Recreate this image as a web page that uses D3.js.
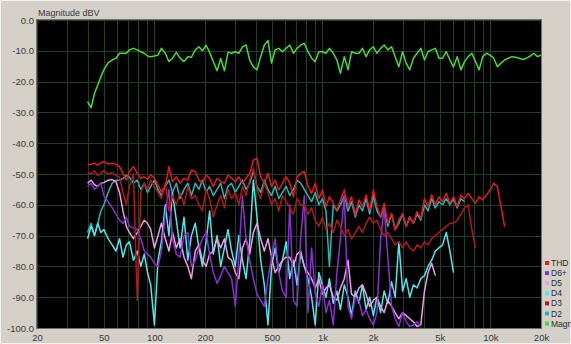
<!DOCTYPE html>
<html>
<head>
<meta charset="utf-8">
<script src="https://cdn.jsdelivr.net/npm/d3@7"></script>
<style>
  body { margin: 0; background: #d4d0c8; }
  svg { display: block; font-family: "Liberation Sans", Arial, sans-serif; }
</style>
</head>
<body>
<svg id="chart" width="571" height="344"></svg>
<script>
// frequency points (Hz) shared by every trace
var freqs = [40,42,44,46,48,50,53,56,59,62,
  65,68,71,75,79,83,87,91,95,100,
  105,110,116,122,128,135,142,150,158,166,
  175,184,193,203,213,224,236,248,261,274,
  288,303,318,334,351,369,388,408,429,451,
  474,498,523,550,578,608,639,672,706,742,
  780,820,862,906,952,1000,1050,1100,1160,1220,
  1280,1350,1420,1490,1570,1650,1730,1820,1910,2010,
  2110,2220,2330,2450,2580,2710,2850,3000,3150,3310,
  3480,3660,3850,4050,4250,4470,4700,4940,5190,5460,
  5740,6030,6340,6670,7010,7370,7750,8150,8560,9000,
  9460,9950,10460,11000,11560,12150,12770,13430,14120,14840,
  15600,16400,17240,18120,19050,20000];

// dBV values
var magn = [-26.5,-28.5,-23.8,-21.1,-18.4,-16.2,-13.9,-13,-12.4,-10.8,
  -10.8,-10.8,-9.7,-9.2,-9.7,-10.3,-10.8,-11.7,-11.9,-11.7,
  -11.4,-9.2,-10.8,-13.5,-12.4,-10.5,-12.4,-13.5,-11.9,-12.1,
  -9.7,-8.7,-10,-8.2,-10.5,-13.5,-16.5,-12.5,-16.5,-10.5,
  -10.8,-10.3,-10.8,-8.7,-8.1,-13,-15.2,-16.2,-11.9,-8.1,
  -6.7,-14,-9.7,-9.2,-10.3,-9.2,-8.1,-10.8,-9.2,-8.1,
  -7.6,-10.3,-12.4,-13.5,-10.3,-10.3,-10.8,-9.2,-10.8,-13,
  -17.3,-11.9,-16.2,-10.3,-10.8,-10.8,-9.2,-11.9,-9.7,-8.7,
  -10.8,-9.2,-8.1,-9.7,-8.7,-11.9,-15.2,-10.3,-14,-16.2,
  -12.4,-10.8,-9.2,-13,-10.3,-9.7,-9.2,-12.4,-12.4,-10.3,
  -13,-15.2,-11.9,-16.2,-13.5,-11.9,-10.8,-13.5,-16.2,-11.9,
  -10.8,-11.4,-12.4,-15.2,-14,-13,-12.4,-11.9,-12.1,-12.4,
  -12.8,-12.4,-11.7,-10.8,-11.9,-11.4];

var thd = [-47.1,-46.8,-46.5,-47.1,-46.3,-46,-46.8,-46.5,-46.8,-47.6,
  -49.8,-52,-49.2,-47.6,-49.8,-51.4,-50.9,-51.7,-50.3,-51.4,
  -53.6,-55.7,-54.1,-47.6,-52.5,-50.9,-53,-51.4,-52,-48.7,
  -49.2,-52,-53,-50.3,-51.4,-54.1,-51.4,-52.5,-53,-50.3,
  -51.4,-52.5,-50.9,-53,-51.4,-49.8,-45.5,-44.9,-50.9,-53,
  -49.8,-54.1,-52,-55.2,-53,-50.9,-53,-57.4,-51,-49.8,
  -49.2,-54,-56.3,-53,-58,-55.2,-60.6,-57.4,-59.5,-61.7,
  -58.4,-55.2,-60.6,-57.4,-63.3,-58.4,-60.6,-56.8,-61.7,-55.2,
  -60.6,-63.9,-59.5,-66,-62.8,-68.2,-65,-62.8,-67.1,-63.9,
  -66,-62.2,-64.4,-58,-60.6,-56.8,-60,-57.4,-59,-56.3,
  -59.5,-57.4,-60.6,-56.8,-58,-56.3,-58,-59.5,-57.4,-58.4,
  -56.8,-55.2,-53,-54.1,-60.6,-67.1];

var d6 = [-54,-53,-55,-54,-53,-57,-59,-61,-63,-65,
  -66,-64,-67,-67.5,-68,-71,-75,-76,-77,-79,
  -80,-75,-63,-55,-71,-76,-77,-70,-69,-80,
  -78,-74,-71,-69,-76,-82,-85.5,-83,-80,-82,
  -84,-93,-77,-57,-71,-78,-84,-89,-91,-93,
  -84,-77,-71,-82,-88,-90,-60,-91,-93,-71,
  -57,-95,-74,-89,-93,-86,-95,-91,-99,-82,
  -71,-57,-93,-97,-90,-91,-96,-94,-97,-99,
  -95,-71,-61,-77,-93,-97,-99.5,-95,-98,-99.5,
  -99,-98,-99.5];

var d5 = [-53,-52,-53.5,-54,-53,-52.8,-52,-51.8,-52.5,-56,
  -62,-67,-69,-71,-69,-67,-65,-66,-68,-74,
  -70,-66,-71,-75,-69,-74,-71,-77,-80,-84,
  -75,-73,-78,-80,-76,-75,-71,-74,-71,-77,
  -78,-82,-84,-74,-71,-76,-69,-66,-71,-75,
  -71,-77,-82,-80,-78,-77,-77,-80,-76,-75,
  -80,-82,-84,-87,-84,-89,-87,-86,-90,-91,
  -87,-84,-78,-89,-90,-87,-86,-89,-93,-91,
  -90,-93,-95,-91,-93,-95,-97,-95,-96,-97,
  -98,-99.5,-99,-88,-82,-79,-83];

var d4 = [-71,-67,-70,-66,-69,-68,-71,-73,-75,-71,
  -77,-73,-72,-78,-75,-80,-76,-82,-86,-99,
  -78,-72,-60,-70,-56,-65,-74,-64,-78,-70,
  -66,-74,-80,-72,-62,-76,-70,-80,-74,-68,
  -75,-80,-70,-78,-84,-72,-52,-64,-78,-86,
  -99,-80,-74,-82,-78,-72,-84,-78,-86,-76,
  -80,-84,-90,-99,-82,-86,-90,-84,-92,-88,
  -94,-86,-90,-96,-88,-92,-86,-94,-90,-96,
  -90,-95,-88,-92,-85,-90,-72,-88,-84,-90,
  -86,-87,-84,-83,-80,-78,-75,-74,-73,-69,
  -75,-82];

var d3v = [-49.5,-50,-49,-50.5,-49.8,-49,-50,-49.5,-50.5,-51,
  -56,-60,-54,-50,-91,-56,-53,-55,-52,-54,
  -56,-58,-53,-62,-57,-60,-56,-60,-54,-58,
  -57,-60,-62,-55,-58,-64,-60,-57,-61,-55,
  -58,-56,-60,-54,-57,-52,-48,-55,-58,-53,
  -56,-60,-58,-62,-57,-59,-61,-63,-58,-60,
  -60,-63,-61,-65,-67,-64,-68,-66,-69,-65,
  -67,-70,-68,-71,-69,-67,-69,-66,-64,-66,
  -65,-68,-70,-69,-71,-73,-72,-74,-72,-74,
  -75,-73,-74,-72,-73,-71,-70,-69,-68,-67,
  -66,-66,-65,-63,-61,-60,-68,-74];

var d2 = [-69,-66,-70,-66,-62,-60,-56,-53,-52,-52,
  -51.5,-50.5,-51,-53,-52,-55,-53,-56,-54,-52,
  -55,-57,-54,-52,-56,-53,-58,-55,-53,-57,
  -53,-55,-52,-56,-54,-57,-55,-53,-58,-54,
  -53,-56,-54,-52,-55,-53,-49,-54,-56,-52,
  -55,-57,-54,-58,-56,-54,-57,-55,-52,-53,
  -55,-57,-59,-56,-60,-58,-62,-80,-60,-62,
  -60,-57,-62,-59,-64,-60,-62,-58,-63,-57,
  -62,-64,-61,-67,-63,-68,-66,-63,-67,-64,
  -66,-63,-65,-60,-62,-58,-61,-59,-60,-58,
  -60,-58,-61,-58,-59];

var legendNames = ["THD", "D6+", "D5", "D4", "D3", "D2", "Magn"];
var legendColors = ["#e8181c", "#8c2fd0", "#f29ae6", "#4ee8ea", "#b81616", "#26b6b8", "#46dc34"];
var xTickValues = [20, 50, 100, 200, 500, 1000, 2000, 5000, 10000, 20000];
var xTickLabels = ["20", "50", "100", "200", "500", "1k", "2k", "5k", "10k", "20k"];
var yTickValues = [0, -10, -20, -30, -40, -50, -60, -70, -80, -90, -100];

var svg = d3.select("#chart");
var plotL = 37, plotR = 541, plotT = 20, plotB = 328;

var x = d3.scaleLog().domain([20, 20000]).range([plotL, plotR]);
var y = d3.scaleLinear().domain([-100, 0]).range([plotB, plotT]);

svg.append("rect").attr("x", 0.5).attr("y", 0.5).attr("width", 570).attr("height", 343)
  .attr("fill", "#d4d0c8").attr("stroke", "#f2f1ee");

svg.append("rect").attr("x", plotL).attr("y", plotT)
  .attr("width", plotR - plotL).attr("height", plotB - plotT).attr("fill", "#000");

svg.append("defs").append("clipPath").attr("id", "plotClip")
  .append("rect").attr("x", plotL).attr("y", plotT - 1)
  .attr("width", plotR - plotL).attr("height", plotB - plotT + 2);

// grid
var grid = svg.append("g").attr("stroke", "#1c3f25").attr("stroke-width", 1);
grid.selectAll("line.v").data(x.ticks()).enter().append("line")
  .attr("class", "v")
  .attr("x1", function(d) { return Math.round(x(d)) + 0.5; })
  .attr("x2", function(d) { return Math.round(x(d)) + 0.5; })
  .attr("y1", plotT).attr("y2", plotB);
grid.selectAll("line.h").data(yTickValues).enter().append("line")
  .attr("class", "h")
  .attr("x1", plotL).attr("x2", plotR)
  .attr("y1", function(d) { return Math.round(y(d)) + 0.5; })
  .attr("y2", function(d) { return Math.round(y(d)) + 0.5; });

svg.append("rect").attr("x", plotL - 0.5).attr("y", plotT - 0.5)
  .attr("width", plotR - plotL + 1).attr("height", plotB - plotT + 1)
  .attr("fill", "none").attr("stroke", "#6f6f6f");

// traces, drawn bottom to top
var line = d3.line()
  .defined(function(d) { return d[1] != null; })
  .x(function(d) { return x(d[0]); })
  .y(function(d) { return y(d[1]); });

function pts(vals) {
  return vals.map(function(v, i) { return [freqs[i], v]; });
}

var traces = [
  { vals: magn, color: legendColors[6] },
  { vals: d2, color: legendColors[5] },
  { vals: d4, color: legendColors[3] },
  { vals: d5, color: legendColors[2] },
  { vals: d6, color: legendColors[1] },
  { vals: d3v, color: legendColors[4] },
  { vals: thd, color: legendColors[0] }
];

svg.append("g").attr("clip-path", "url(#plotClip)")
  .selectAll("path").data(traces).enter().append("path")
  .attr("d", function(t) { return line(pts(t.vals)); })
  .attr("fill", "none")
  .attr("stroke", function(t) { return t.color; })
  .attr("stroke-width", 1.5)
  .attr("stroke-linejoin", "round");

// axes
var xAxis = svg.append("g").attr("transform", "translate(0," + plotB + ")")
  .call(d3.axisBottom(x).tickValues(xTickValues)
    .tickFormat(function(d, i) { return xTickLabels[i]; }).tickSize(0).tickPadding(6));
xAxis.select(".domain").remove();
xAxis.selectAll("text").attr("fill", "#3a3a3a").attr("font-size", "9.5px")
  .attr("font-family", "Liberation Sans, Arial, sans-serif");

var yAxis = svg.append("g").attr("transform", "translate(" + (plotL - 3) + ",0)")
  .call(d3.axisLeft(y).tickValues(yTickValues)
    .tickFormat(function(d) { return d.toFixed(1); }).tickSize(0).tickPadding(0));
yAxis.select(".domain").remove();
yAxis.selectAll("text").attr("fill", "#3a3a3a").attr("font-size", "9.5px")
  .attr("font-family", "Liberation Sans, Arial, sans-serif");

svg.append("text").attr("x", 38).attr("y", 16)
  .attr("font-size", "9px").attr("fill", "#3a3a3a")
  .text("Magnitude dBV");

// legend
var leg = svg.append("g").selectAll("g").data(legendNames).enter().append("g")
  .attr("transform", function(d, i) { return "translate(545," + (263 + i * 10.1) + ")"; });
leg.append("rect").attr("x", 0).attr("y", -2).attr("width", 4).attr("height", 4)
  .attr("fill", function(d, i) { return legendColors[i]; });
leg.append("text").attr("x", 6).attr("y", 3)
  .attr("font-size", "8.5px").attr("fill", "#2a2a2a")
  .text(function(d) { return d; });
</script>
</body>
</html>
